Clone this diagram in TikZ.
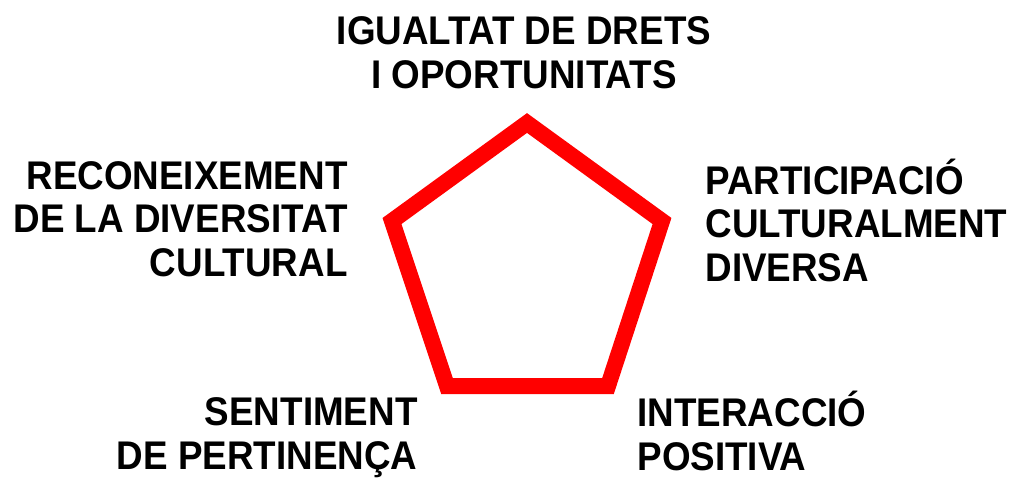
\documentclass[tikz,border=0pt]{standalone}
\usepackage{fontspec}
\newfontfamily\lblfont{Liberation Sans}[FakeStretch=0.92]
\tikzset{every picture/.style={line width=0.75pt}}
\tikzset{
	lbl/.style={font=\lblfont\bfseries\fontsize{30pt}{32.6pt}\selectfont, inner sep=0pt}}

\begin{document}
\begin{tikzpicture}[x=0.75pt,y=0.75pt,yscale=-1,xscale=1]
	\useasboundingbox (0,0) rectangle (1022,479);

	%Shape: Pentagon
	\draw [color={rgb, 255:red, 255; green, 0; blue, 0 }, line width=12pt, line join=miter] (527,123) -- (662,221) -- (608,386) -- (447,386) -- (392,221) -- cycle ;

	% Text Node
	\node [lbl, align=center, anchor=base] (igualtat) at (524,88) {IGUALTAT DE DRETS\\I OPORTUNITATS};
	% Text Node
	\node [lbl, align=right, anchor=base east] (reconeixement) at (348,276) {RECONEIXEMENT\\DE LA DIVERSITAT\\CULTURAL};
	% Text Node
	\node [lbl, align=left, anchor=base west] (participacio) at (705,281) {PARTICIPACIÓ\\CULTURALMENT\\DIVERSA};
	% Text Node
	\node [lbl, align=right, anchor=base east] (sentiment) at (418,469) {SENTIMENT\\DE PERTINENÇA};
	% Text Node
	\node [lbl, align=left, anchor=base west] (interaccio) at (637,470) {INTERACCIÓ\\POSITIVA};

\end{tikzpicture}
\end{document}
